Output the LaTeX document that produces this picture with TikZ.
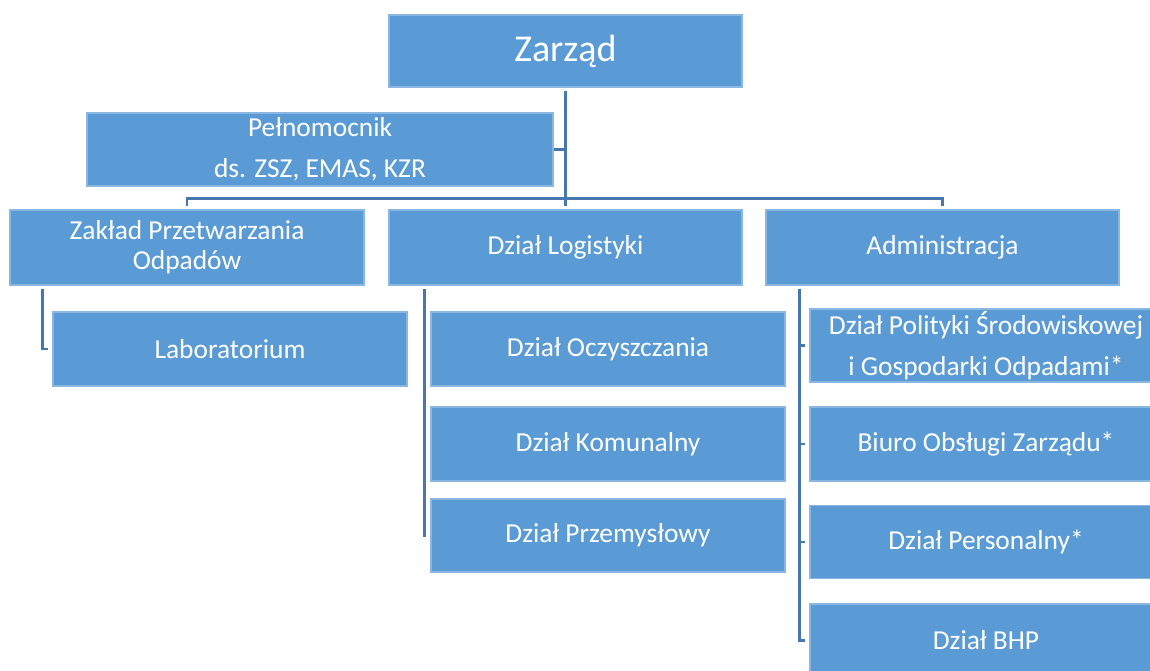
\documentclass[tikz,border=0pt]{standalone}
\usepackage{fontspec}
\setmainfont{Carlito}
\usetikzlibrary{calc}
\definecolor{boxfill}{HTML}{5B9BD5}
\definecolor{boxedge}{HTML}{8AB6E2}
\definecolor{conncol}{HTML}{4876AE}
\tikzset{
  box/.style={rectangle, fill=boxfill, draw=boxedge, line width=0.6pt,
    text=white, inner sep=0pt, align=center,
    font=\fontsize{15.6}{17}\selectfont},
  wh/.style 2 args={minimum width=#1*0.02cm, minimum height=#2*0.02cm},
  conn/.style={draw=conncol, line width=1.4pt}
}
\begin{document}
\begin{tikzpicture}[x=0.02cm, y=-0.02cm]
\useasboundingbox (0,0) rectangle (1150,671);
\clip (0,0) rectangle (1150,671);
% nodes
\node[box, wh={353}{72}, font=\fontsize{21.6}{24}\selectfont] (zarzad) at (565.5,51) {Zarząd};
\node[box, wh={466}{73}, font=\fontsize{15.6}{23.5}\selectfont] (peln) at (320,149.5) {Pełnomocnik\\ds. ZSZ, EMAS, KZR};
\node[box, wh={354}{75}] (zaklad) at (187,247.5) {Zakład Przetwarzania\\Odpadów};
\node[box, wh={353}{75}] (log) at (565.5,247.5) {Dział Logistyki};
\node[box, wh={353}{75}] (admin) at (942.5,247.5) {Administracja};
\node[box, wh={354}{74}] (lab) at (230,349) {Laboratorium};
\node[box, wh={354}{74}] (ocz) at (608,349) {Dział Oczyszczania};
\node[box, wh={354}{74}] (kom) at (608,444) {Dział Komunalny};
\node[box, wh={354}{73}] (prz) at (608,535.5) {Dział Przemysłowy};
\node[box, wh={352}{73}, font=\fontsize{15.6}{23.5}\selectfont] (pol) at (986,345.5) {Dział Polityki Środowiskowej\\i Gospodarki Odpadami*};
\node[box, wh={352}{74}] (biu) at (986,444) {Biuro Obsługi Zarządu*};
\node[box, wh={352}{73}] (per) at (986,542) {Dział Personalny*};
\node[box, wh={352}{73}] (bhp) at (986,640.5) {Dział BHP};
% connectors
\draw[conn] ($(zarzad.south)+(0,3)$) -- ($(log.north)+(0,-3)$);
\draw[conn] (peln.east) -- (peln.east -| zarzad.south);
\draw[conn] ($(zaklad.north)+(0,-3)$) |- ($(zarzad.south)+(0,111)$) -| ($(admin.north)+(0,-3)$);
% Zakład -> Laboratorium
\draw[conn] ($(zaklad.south west)+(33,3)$) |- ($(lab.west)+(-4,0)$);
% Dział Logistyki children
\draw[conn] ($(log.south west)+(36,3)$) coordinate (lv) |- ($(prz.west)+(-4,0)$);
\draw[conn] (lv |- ocz.west) -- ($(ocz.west)+(-4,0)$);
\draw[conn] (lv |- kom.west) -- ($(kom.west)+(-4,0)$);
% Administracja children
\draw[conn] ($(admin.south west)+(34,3)$) coordinate (av) |- ($(bhp.west)+(-4,0)$);
\draw[conn] (av |- pol.west) -- ($(pol.west)+(-4,0)$);
\draw[conn] (av |- biu.west) -- ($(biu.west)+(-4,0)$);
\draw[conn] (av |- per.west) -- ($(per.west)+(-4,0)$);
\end{tikzpicture}
\end{document}
